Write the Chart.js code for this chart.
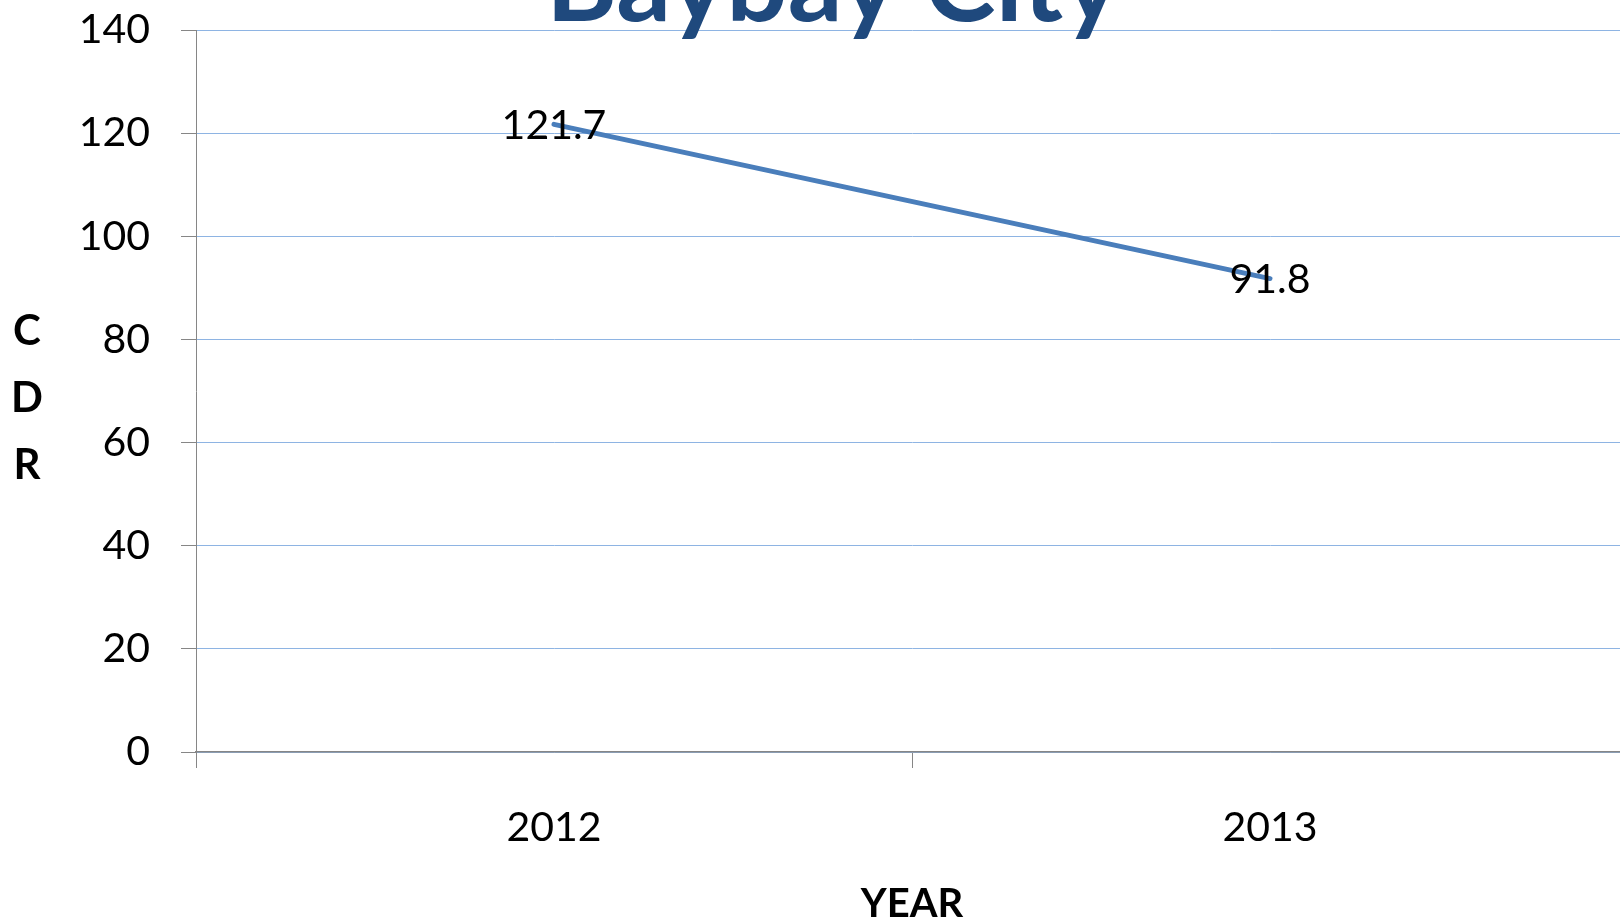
<!DOCTYPE html>
<html>
<head>
<meta charset="utf-8">
<script src="https://cdn.jsdelivr.net/npm/chart.js@4.4.1/dist/chart.umd.min.js"></script>
<style>
    html, body { margin: 0; padding: 0; background: #fff; overflow: hidden; }
    #wrap { width: 1620px; height: 923px; overflow: hidden; position: relative; }
    canvas { display: block; }
</style>
</head>
<body>
<div id="wrap">
    <canvas id="grafico" width="1636" height="923"></canvas>
</div>
<script>
// dados do grafico
const anos = ['2012', '2013'];
const valoresCdr = [121.7, 91.8];
const ticksY = [0, 20, 40, 60, 80, 100, 120, 140];
const titulo = 'Baybay City';
const tituloY = ['C', 'D', 'R'];
const tituloX = 'YEAR';

const corLinha = '#4A7EBB';
const corGrade = '#8EB4E3';
const corEixo = '#868686';
const fonte = 'Lato, "Open Sans", sans-serif';

// desenha titulo, titulo vertical do eixo Y e rotulos dos pontos
const textosExtras = {
    id: 'textosExtras',
    afterDatasetsDraw(chart) {
        const ctx = chart.ctx;
        ctx.save();

        // rotulos dos valores, centrados em cada ponto
        const meta = chart.getDatasetMeta(0);
        ctx.font = `41px ${fonte}`;
        ctx.fillStyle = '#000';
        ctx.textAlign = 'center';
        ctx.textBaseline = 'middle';
        meta.data.forEach((ponto, i) => {
            ctx.fillText(String(valoresCdr[i]), ponto.x, ponto.y + 1);
        });

        // titulo cortado no topo
        ctx.font = `bold 108px ${fonte}`;
        ctx.fillStyle = '#1F497D';
        ctx.textBaseline = 'alphabetic';
        ctx.fillText(titulo, 833, 21);

        // C D R empilhado
        ctx.font = `bold 42px ${fonte}`;
        ctx.fillStyle = '#000';
        ctx.textBaseline = 'middle';
        tituloY.forEach((letra, i) => {
            ctx.fillText(letra, 27, 331 + i * 67);
        });

        ctx.restore();
    }
};

const ctx = document.getElementById('grafico').getContext('2d');

const grafico = new Chart(ctx, {
    type: 'line',
    data: {
        labels: anos,
        datasets: [{
            label: 'CDR',
            data: valoresCdr,
            borderColor: corLinha,
            borderWidth: 5,
            borderCapStyle: 'round',
            pointRadius: 0,
            tension: 0,
            fill: false
        }]
    },
    options: {
        responsive: false,
        animation: false,
        devicePixelRatio: 1,
        layout: {
            padding: { top: 30, left: 0, right: 8, bottom: 0 }
        },
        plugins: {
            legend: { display: false },
            title: { display: false },
            tooltip: { enabled: false }
        },
        scales: {
            x: {
                type: 'category',
                offset: true,
                grid: {
                    offset: true,
                    drawOnChartArea: false,
                    drawTicks: true,
                    tickLength: 16,
                    tickColor: corEixo,
                    tickWidth: 1
                },
                border: { color: corEixo, width: 1.5 },
                ticks: {
                    color: '#000',
                    padding: 35,
                    maxRotation: 0,
                    font: { family: fonte, size: 41 }
                },
                title: {
                    display: true,
                    text: tituloX,
                    color: '#000',
                    padding: { top: 0, bottom: 0 },
                    font: { family: fonte, size: 40, weight: 'bold', lineHeight: 0.95 }
                },
                afterFit(escala) {
                    escala.height = 171;
                }
            },
            y: {
                min: 0,
                max: 140,
                afterBuildTicks(escala) {
                    escala.ticks = ticksY.map(v => ({ value: v }));
                },
                grid: {
                    color: corGrade,
                    lineWidth: 1,
                    drawTicks: true,
                    tickLength: 15,
                    tickColor: corEixo
                },
                border: { color: corEixo, width: 1 },
                ticks: {
                    color: '#000',
                    padding: 31,
                    font: { family: fonte, size: 41 }
                },
                afterFit(escala) {
                    escala.width = 196;
                    // o rotulo do topo pode sair da area, como no original
                    escala.paddingTop = 0;
                    escala.paddingBottom = 0;
                }
            }
        }
    },
    plugins: [textosExtras]
});
</script>
</body>
</html>
